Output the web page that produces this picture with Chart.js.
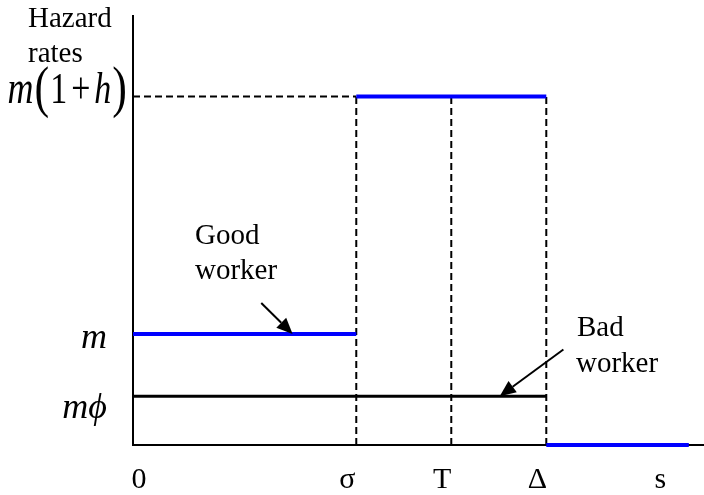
<!DOCTYPE html>
<html>
<head>
<meta charset="utf-8">
<script src="https://cdn.jsdelivr.net/npm/chart.js@4"></script>
<style>
  html, body { margin: 0; padding: 0; background: #ffffff; }
  #wrap { width: 704px; height: 495px; }
</style>
</head>
<body>
<div id="wrap"><canvas id="chart" width="704" height="495"></canvas></div>
<script>
// Time axis breakpoints: sigma, T, Delta, and the end of the drawn horizon
const breakpoints = [2.35, 3.35, 4.35];
const horizonEnd = 5.85;
const xMax = 6.01;

// Tick labels along the time axis
const xTickValues = [0, 2.35, 3.35, 4.35, 5.55];
const xTickLabels = ['0', 'σ', 'T', 'Δ', 's'];

// Hazard-rate levels: m(1+h), m, m·phi
const rateLevels = [3.14, 1, 0.44];
const yMax = 3.865;

// Good worker: m until sigma, m(1+h) until Delta, zero afterwards
const goodWorker = [
  { x: 0, y: 1 }, { x: 2.35, y: 1 }, { x: 2.35, y: null },
  { x: 2.35, y: 3.14 }, { x: 4.35, y: 3.14 }, { x: 4.35, y: null },
  { x: 4.35, y: 0 }, { x: 5.85, y: 0 }
];
// Bad worker: constant m·phi until Delta
const badWorker = [{ x: 0, y: 0.44 }, { x: 4.35, y: 0.44 }];

// Dashed guides
const guideH = [{ x: 0, y: 3.14 }, { x: 2.35, y: 3.14 }];
const guideSigma = [{ x: 2.35, y: 0 }, { x: 2.35, y: 3.14 }];
const guideT = [{ x: 3.35, y: 0 }, { x: 3.35, y: 3.14 }];
const guideDelta = [{ x: 4.35, y: 0 }, { x: 4.35, y: 3.14 }];

const SERIF = "'Liberation Serif', 'Times New Roman', Times, serif";

function drawArrow(ctx, x1, y1, x2, y2) {
  const ang = Math.atan2(y2 - y1, x2 - x1);
  const len = 16, half = 7;
  const bx = x2 - len * Math.cos(ang), by = y2 - len * Math.sin(ang);
  ctx.save();
  ctx.strokeStyle = '#000'; ctx.fillStyle = '#000'; ctx.lineWidth = 2;
  ctx.beginPath(); ctx.moveTo(x1, y1); ctx.lineTo(bx, by); ctx.stroke();
  ctx.beginPath();
  ctx.moveTo(x2, y2);
  ctx.lineTo(bx + half * Math.sin(ang), by - half * Math.cos(ang));
  ctx.lineTo(bx - half * Math.sin(ang), by + half * Math.cos(ang));
  ctx.closePath(); ctx.fill();
  ctx.restore();
}

const labelsPlugin = {
  id: 'hazardLabels',
  afterDraw(chart) {
    const { ctx, scales: { x, y } } = chart;
    ctx.save();
    ctx.fillStyle = '#000';
    ctx.textBaseline = 'alphabetic';

    // Axis title
    ctx.font = '29px ' + SERIF;
    ctx.textAlign = 'left';
    ctx.fillText('Hazard', 28, 27);
    ctx.fillText('rates', 28, 62);

    // Time axis labels
    ctx.font = '30px ' + SERIF;
    ctx.textAlign = 'center';
    xTickValues.forEach((v, i) => {
      const shift = i === 0 ? 6 : (i === xTickValues.length - 1 ? 0 : -9);
      ctx.fillText(xTickLabels[i], x.getPixelForValue(v) + shift, 488);
    });

    // Rate labels
    const axisX = x.getPixelForValue(0);
    ctx.textAlign = 'right';
    ctx.font = 'italic 36px ' + SERIF;
    ctx.fillText('m', axisX - 26, y.getPixelForValue(rateLevels[1]) + 14);
    ctx.fillText('mϕ', axisX - 26, y.getPixelForValue(rateLevels[2]) + 22);

    // m(1 + h), set as a small formula with tall parentheses
    const topY = y.getPixelForValue(rateLevels[0]);
    const parts = [
      { t: 'm', f: 'italic 36px ' + SERIF, gap: 1 },
      { t: '(', f: '44px ' + SERIF, gap: 1 },
      { t: '1', f: '34px ' + SERIF, gap: 4 },
      { t: '+', f: '34px ' + SERIF, gap: 4 },
      { t: 'h', f: 'italic 34px ' + SERIF, gap: 1 },
      { t: ')', f: '44px ' + SERIF, gap: 0 }
    ];
    let total = 0;
    parts.forEach(p => { ctx.font = p.f; p.w = ctx.measureText(p.t).width; total += p.w + p.gap; });
    ctx.save();
    ctx.translate(0, topY + 7);
    ctx.scale(1, 1.3);
    ctx.textAlign = 'left';
    let cx = axisX - 6 - total;
    parts.forEach(p => { ctx.font = p.f; ctx.fillText(p.t, cx, p.t === '(' || p.t === ')' ? 2 : 0); cx += p.w + p.gap; });
    ctx.restore();

    // Series annotations
    ctx.font = '29px ' + SERIF;
    ctx.textAlign = 'left';
    ctx.fillText('Good', 195, 244);
    ctx.fillText('worker', 195, 279);
    ctx.fillText('Bad', 577, 336);
    ctx.fillText('worker', 576, 372);

    drawArrow(ctx, x.getPixelForValue(1.35), y.getPixelForValue(1.28),
                   x.getPixelForValue(1.68), y.getPixelForValue(1.0));
    drawArrow(ctx, x.getPixelForValue(4.53), y.getPixelForValue(0.86),
                   x.getPixelForValue(3.86), y.getPixelForValue(0.44));
    ctx.restore();
  }
};

const dashed = (data) => ({
  data, borderColor: '#000', borderWidth: 2, borderDash: [7, 4],
  pointRadius: 0, fill: false, clip: false
});

new Chart(document.getElementById('chart'), {
  type: 'line',
  data: {
    datasets: [
      { label: 'Good worker', data: goodWorker, borderColor: '#0000ff', borderWidth: 4,
        pointRadius: 0, spanGaps: false, fill: false, clip: false, borderCapStyle: 'butt' },
      { label: 'Bad worker', data: badWorker, borderColor: '#000000', borderWidth: 3,
        pointRadius: 0, fill: false, clip: false },
      dashed(guideH), dashed(guideSigma), dashed(guideT), dashed(guideDelta)
    ]
  },
  options: {
    responsive: false,
    animation: false,
    devicePixelRatio: 1,
    layout: { padding: { top: 16, right: 0, left: 0, bottom: 0 } },
    plugins: { legend: { display: false }, tooltip: { enabled: false } },
    scales: {
      x: {
        type: 'linear', min: 0, max: xMax,
        grid: { display: false },
        ticks: { display: false },
        border: { display: true, color: '#000', width: 2 },
        afterFit(scale) { scale.height = 50; }
      },
      y: {
        type: 'linear', min: 0, max: yMax,
        grid: { display: false },
        ticks: { display: false },
        border: { display: true, color: '#000', width: 2 },
        afterFit(scale) { scale.width = 133; }
      }
    }
  },
  plugins: [labelsPlugin]
});
</script>
</body>
</html>
